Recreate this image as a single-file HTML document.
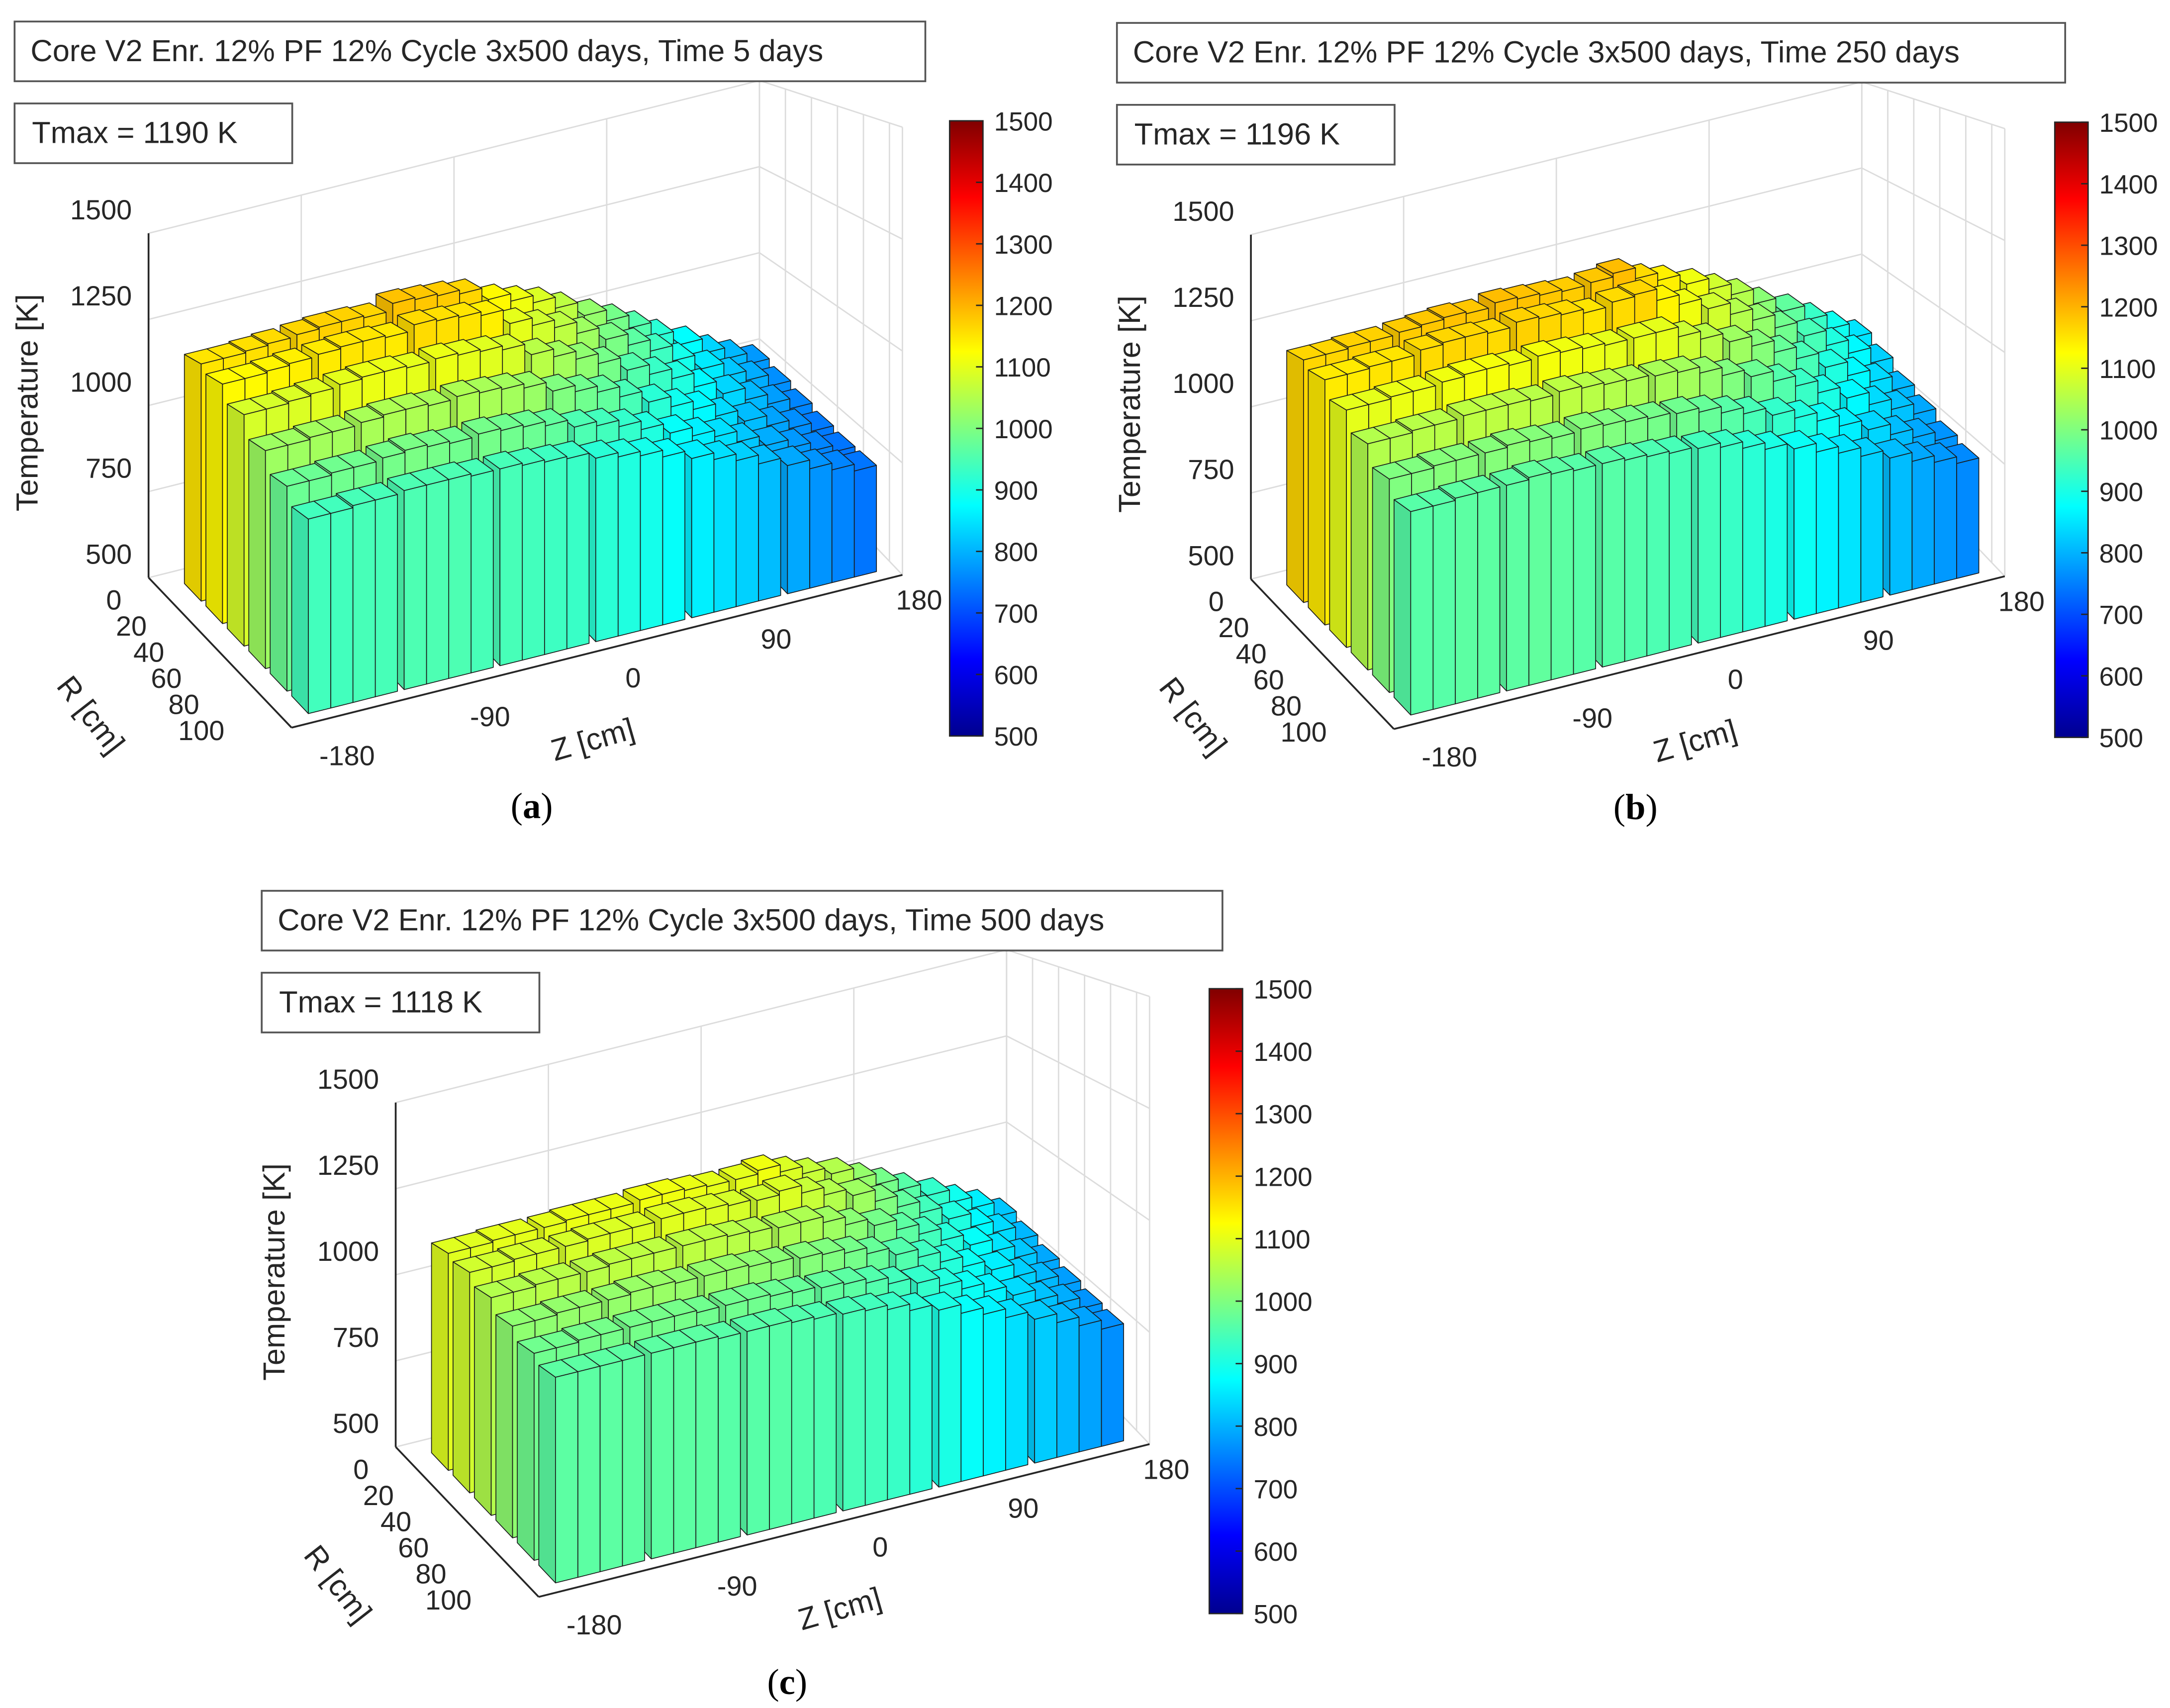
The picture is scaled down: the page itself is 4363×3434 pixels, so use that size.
<!DOCTYPE html>
<html><head><meta charset="utf-8"><style>
html,body{margin:0;padding:0;background:#fff;}
svg{display:block;font-family:"Liberation Sans",Arial,sans-serif;}
</style></head><body>
<svg id="root" width="4363" height="3434" viewBox="0 0 1563 1230" preserveAspectRatio="none" xmlns="http://www.w3.org/2000/svg">
<defs>
<linearGradient id="jet" x1="0" y1="1" x2="0" y2="0">
<stop offset="0" stop-color="#00008f"/><stop offset="0.125" stop-color="#0000ff"/>
<stop offset="0.375" stop-color="#00ffff"/><stop offset="0.625" stop-color="#ffff00"/>
<stop offset="0.875" stop-color="#ff0000"/><stop offset="1" stop-color="#800000"/>
</linearGradient>
</defs>
<rect width="1563" height="1230" fill="#fff"/>
</svg>
<script>
const zTicks=[-180,-90,0,90,180];
const tTicks=[500,750,1000,1250,1500];
const rTicks=[0,20,40,60,80,100];
const cbTicks=[500,600,700,800,900,1000,1100,1200,1300,1400,1500];
const panelA_r0=[1150,1150,1155,1160,1165,1170,1170,1165,1185,1180,1175,1165,1130,1110,1090,1060,1020,990,955,915,875,835,805,775];
const panelA_r1=[1130,1130,1135,1140,1145,1150,1150,1145,1160,1155,1150,1140,1100,1080,1060,1030,995,965,935,895,855,820,795,765];
const panelA_r2=[1085,1085,1090,1095,1100,1105,1105,1100,1105,1100,1095,1085,1055,1035,1015,990,955,930,905,870,835,805,780,755];
const panelA_r3=[1030,1030,1035,1035,1040,1045,1045,1040,1045,1040,1035,1025,1000,985,970,945,915,890,870,840,810,785,765,745];
const panelA_r4=[980,980,985,985,990,995,990,985,990,985,980,970,950,940,925,905,880,860,845,820,795,775,755,740];
const panelA_r5=[940,940,945,945,950,950,950,945,945,940,935,930,915,905,895,880,860,845,830,810,790,770,755,740];
const panelB_r0=[1165,1165,1170,1170,1175,1180,1185,1180,1190,1185,1180,1175,1180,1190,1160,1140,1110,1080,1050,1010,970,930,890,850];
const panelB_r1=[1145,1145,1150,1150,1160,1165,1165,1160,1170,1165,1160,1150,1160,1165,1135,1110,1080,1050,1020,985,945,905,870,830];
const panelB_r2=[1100,1100,1105,1105,1110,1115,1115,1110,1115,1110,1105,1100,1100,1100,1075,1055,1030,1005,975,945,905,870,840,805];
const panelB_r3=[1050,1050,1055,1055,1060,1060,1060,1055,1060,1055,1050,1045,1040,1035,1020,1000,980,955,930,900,870,840,815,790];
const panelB_r4=[1000,1000,1005,1005,1005,1010,1005,1000,1005,1000,995,990,985,975,960,945,925,905,885,860,835,810,790,770];
const panelB_r5=[960,960,965,965,965,970,965,960,960,955,950,945,940,930,915,900,885,865,850,830,810,790,775,760];
const panelC_r0=[1095,1095,1100,1100,1100,1105,1105,1105,1110,1110,1105,1100,1100,1110,1090,1070,1050,1020,990,960,925,890,860,820];
const panelC_r1=[1080,1080,1085,1085,1085,1090,1090,1090,1095,1095,1090,1085,1080,1090,1070,1050,1030,1000,970,940,905,870,840,805];
const panelC_r2=[1050,1050,1055,1055,1055,1060,1060,1060,1060,1060,1055,1050,1045,1045,1030,1010,990,965,940,910,880,850,820,790];
const panelC_r3=[1015,1015,1020,1020,1020,1025,1025,1020,1020,1020,1015,1010,1005,1000,990,975,955,935,910,885,860,830,805,780];
const panelC_r4=[985,985,990,990,990,990,990,985,985,985,980,975,970,965,955,940,925,905,885,865,840,815,795,770];
const panelC_r5=[965,965,965,965,965,965,965,960,960,960,955,950,945,940,930,915,900,880,865,845,825,805,785,765];

const NS="http://www.w3.org/2000/svg";
const root=document.getElementById('root');
function mk(tag,attrs,parent){const e=document.createElementNS(NS,tag);for(const k in attrs)e.setAttribute(k,attrs[k]);(parent||root).appendChild(e);return e;}
function jet(v){let t=(v-500)/1000;t=Math.max(0,Math.min(1,t));
 const f=(x)=>Math.max(0,Math.min(1,1.5-Math.abs(4*t-x)));
 return [f(3),f(2),f(1)];}
function col(v,k){const c=jet(v);return 'rgb('+c.map(x=>Math.round(x*255*k)).join(',')+')';}

function panel(name,ox,oy,rows,title,tmax,cbx,cby,cbh,cap,capx,capy,titleW){
 const g=mk('g',{});
 
 
 const O=[ox+107,oy+416], EZ=[440,-110], ER=[103,108], KY=-0.248;
 const P=(zf,rf,T)=>[O[0]+zf*EZ[0]+rf*ER[0], O[1]+zf*EZ[1]+rf*ER[1]+(T-500)*KY*(1+0.3*rf)];
 const pts=a=>a.map(p=>p[0].toFixed(1)+','+p[1].toFixed(1)).join(' ');
 const zf=z=>(z+180)/360, rf=r=>r/110;
 const grid=mk('g',{stroke:'#dcdcdc','stroke-width':1,fill:'none'},g);
 
 
 zTicks.forEach(z=>{const a=P(zf(z),0,500),b=P(zf(z),0,1500);mk('line',{x1:a[0],y1:a[1],x2:b[0],y2:b[1]},grid);});
 tTicks.forEach(t=>{const a=P(0,0,t),b=P(1,0,t),c=P(1,1,t);mk('polyline',{points:pts([a,b,c])},grid);});
 rTicks.forEach(r=>{const a=P(1,rf(r),500),b=P(1,rf(r),1500);mk('line',{x1:a[0],y1:a[1],x2:b[0],y2:b[1]},grid);});
 {const a=P(1,1,500),b=P(1,1,1500);mk('line',{x1:a[0],y1:a[1],x2:b[0],y2:b[1]},grid);}
 const ax=mk('g',{stroke:'#262626','stroke-width':1.3,fill:'none'},g);
 
 
 let a=P(0,0,500),b=P(0,0,1500);mk('line',{x1:a[0],y1:a[1],x2:b[0],y2:b[1]},ax);
 a=P(0,0,500);b=P(0,1,500);mk('line',{x1:a[0],y1:a[1],x2:b[0],y2:b[1]},ax);
 a=P(0,1,500);b=P(1,1,500);mk('line',{x1:a[0],y1:a[1],x2:b[0],y2:b[1]},ax);
 const bars=mk('g',{stroke:'#1a1a1a','stroke-width':0.6,'stroke-linejoin':'round'},g);
 
 
 const nC=rows[0].length, nR=rows.length, tot=nC+0.3*(nC/4-1);
 const zs=0.04, zw=0.93, rs=0.08, rw=0.9;
 for(let i=0;i<nR;i++){
  for(let j=nC-1;j>=0;j--){
   const T=rows[i][j];
   const z0=zs+zw*(j+0.3*Math.floor(j/4))/tot, z1=z0+zw/tot;
   const r0=rs+rw*i/nR, r1=r0+rw*0.78/nR;
   const fill=col(T,1), side=col(T,0.88), top=col(T,1);
   const left=mk('polygon',{points:pts([P(z0,r0,500),P(z0,r1,500),P(z0,r1,T),P(z0,r0,T)]),fill:side},bars);
   
   
   const fr=mk('polygon',{points:pts([P(z0,r1,500),P(z1,r1,500),P(z1,r1,T),P(z0,r1,T)]),fill:fill},bars);
   
   
   const tp=mk('polygon',{points:pts([P(z0,r0,T),P(z1,r0,T),P(z1,r1,T),P(z0,r1,T)]),fill:top},bars);
   
   
  }
 }
 const tl=mk('g',{'font-size':20,fill:'#262626'},g);
 
 
 tTicks.forEach(t=>{const p=P(0,0,t);const e=mk('text',{x:p[0]-12,y:p[1]-10,'text-anchor':'end'},tl);e.textContent=t;
  });
 const p0=P(0,1,500);
 zTicks.forEach(z=>{const f=zf(z);const e=mk('text',{x:p0[0]+40+f*412,y:p0[1]+27-f*112,'text-anchor':'middle'},tl);e.textContent=z;
  });
 rTicks.forEach((r,k)=>{const e=mk('text',{x:ox+82+k*12.6,y:oy+439+k*18.8,'text-anchor':'middle'},tl);e.textContent=r;
  });
 let e=mk('text',{x:ox+27,y:oy+290,'font-size':22,'text-anchor':'middle',transform:'rotate(-90 '+(ox+27)+' '+(oy+290)+')',fill:'#262626'},g);
 e.textContent='Temperature [K]';
 e=mk('text',{x:ox+65,y:oy+522,'font-size':22,'text-anchor':'middle',transform:'rotate(52 '+(ox+65)+' '+(oy+515)+')',fill:'#262626'},g);
 e.textContent='R [cm]';
 e=mk('text',{x:ox+427,y:oy+540,'font-size':22,'text-anchor':'middle',transform:'rotate(-16 '+(ox+427)+' '+(oy+533)+')',fill:'#262626'},g);
 e.textContent='Z [cm]';
 const tb=mk('g',{},g);
 mk('rect',{x:ox+10.5,y:oy+15.5,width:titleW,height:43,fill:'#fff',stroke:'#555','stroke-width':1.3},tb);
 e=mk('text',{x:ox+22,y:oy+44,'font-size':22,fill:'#262626'},tb);e.textContent=title;
 const mb=mk('g',{},g);
 mk('rect',{x:ox+10.5,y:oy+74.5,width:200,height:43,fill:'#fff',stroke:'#555','stroke-width':1.3},mb);
 e=mk('text',{x:ox+23,y:oy+103,'font-size':22,fill:'#262626'},mb);e.textContent=tmax;
 const cb=mk('g',{},g);
 mk('rect',{x:cbx,y:cby,width:24,height:cbh,fill:'url(#jet)',stroke:'#262626','stroke-width':1},cb);
 cbTicks.forEach(t=>{const y=cby+cbh*(1-(t-500)/1000);
  mk('line',{x1:cbx+24,y1:y,x2:cbx+19,y2:y,stroke:'#262626','stroke-width':1},cb);
  const q=mk('text',{x:cbx+32,y:y+7,'font-size':19,fill:'#262626'},cb);q.textContent=t;
  });
 e=mk('text',{x:capx,y:capy,'font-size':26,'text-anchor':'middle','font-family':'Liberation Serif,serif',fill:'#000'},g);
 e.innerHTML='(<tspan font-weight="bold">'+cap+'</tspan>)';
 
}
panel('panel-a',0,0,[panelA_r0,panelA_r1,panelA_r2,panelA_r3,panelA_r4,panelA_r5],'Core V2 Enr. 12% PF 12% Cycle 3x500 days, Time 5 days','Tmax = 1190 K',684,87,443,'a',383,589,656);
panel('panel-b',794,1,[panelB_r0,panelB_r1,panelB_r2,panelB_r3,panelB_r4,panelB_r5],'Core V2 Enr. 12% PF 12% Cycle 3x500 days, Time 250 days','Tmax = 1196 K',1480,88,443,'b',1178,590,683);
panel('panel-c',178,626,[panelC_r0,panelC_r1,panelC_r2,panelC_r3,panelC_r4,panelC_r5],'Core V2 Enr. 12% PF 12% Cycle 3x500 days, Time 500 days','Tmax = 1118 K',871,712,450,'c',567,1220,692);
</script>
</body></html>
